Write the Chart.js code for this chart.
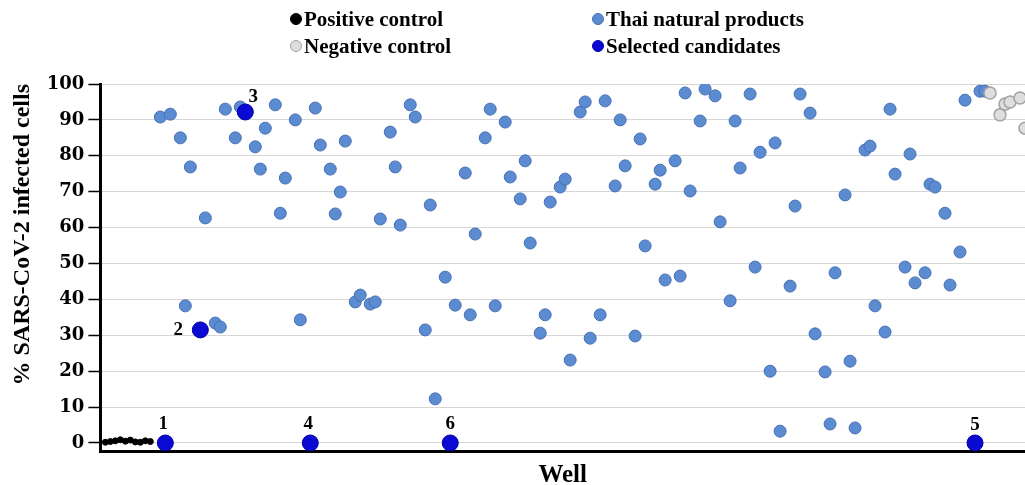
<!DOCTYPE html>
<html>
<head>
<meta charset="utf-8">
<script src="https://cdn.jsdelivr.net/npm/chart.js@4.4.1/dist/chart.umd.min.js"></script>
<style>
  html, body { margin: 0; padding: 0; background: #fff; }
  #wrap { position: relative; width: 1025px; height: 485px; }
  #legend { position: absolute; left: 0; top: 0; width: 1025px; height: 60px;
            font: bold 21px "Liberation Serif", serif; color: #000; }
  .item { position: absolute; display: flex; align-items: center; white-space: nowrap; line-height: 20px; }
  .dot { width: 12px; height: 12px; border-radius: 50%; box-sizing: border-box; margin-right: 2px; }
</style>
</head>
<body>
<div id="wrap">
  <canvas id="myChart" width="1025" height="485"></canvas>
  <div id="legend"></div>
</div>
<script>
const ctx = document.getElementById('myChart').getContext('2d');

// y axis ticks
const yTicks = [0, 10, 20, 30, 40, 50, 60, 70, 80, 90, 100];

// positive control wells
const positiveWells = [1, 2, 3, 4, 5, 6, 7, 8, 9, 10];
const positiveValues = [0.2, 0.4, 0.6, 0.9, 0.5, 0.8, 0.3, 0.2, 0.6, 0.4];

// Thai natural products
const thaiWells = [
  12, 14, 16, 17, 18, 21, 23, 24, 25, 27,
  28, 31, 32, 33, 35, 36, 37, 39, 40, 43,
  44, 46, 47, 48, 49, 51, 52, 54, 55, 56,
  58, 59, 60, 62, 63, 65, 66, 67, 69, 71,
  73, 74, 75, 77, 78, 79, 81, 82, 84, 85,
  86, 88, 89, 90, 92, 93, 94, 96, 97, 98,
  100, 101, 103, 104, 105, 107, 108, 109, 111, 112,
  113, 115, 116, 117, 118, 120, 121, 123, 124, 126,
  127, 128, 130, 131, 132, 134, 135, 136, 138, 139,
  140, 142, 143, 145, 146, 147, 149, 150, 151, 153,
  154, 155, 157, 158, 159, 161, 162, 163, 165, 166,
  167, 169, 170, 172, 173, 176, 177
];
const thaiValues = [
  90.8, 91.6, 85, 38.2, 76.9, 62.7, 33.4, 32.3, 93, 85,
  93.6, 82.5, 76.3, 87.7, 94.2, 64, 73.8, 90, 34.3, 93.3,
  83, 76.3, 63.8, 69.9, 84.1, 39.3, 41.2, 38.7, 39.3, 62.4,
  86.6, 76.9, 60.7, 94.2, 90.8, 31.5, 66.3, 12.3, 46.2, 38.4,
  75.2, 35.7, 58.2, 85, 93, 38.2, 89.4, 74.1, 68, 78.6,
  55.7, 30.6, 35.7, 67.1, 71.3, 73.5, 23.1, 92.2, 95, 29.2,
  35.7, 95.3, 71.6, 90, 77.2, 29.8, 84.7, 54.9, 72.1, 76,
  45.4, 78.6, 46.5, 97.5, 70.2, 89.7, 98.6, 96.7, 61.6, 39.6,
  89.7, 76.6, 97.2, 49, 81, 20, 83.6, 3.3, 43.7, 66,
  97.2, 91.9, 30.4, 19.8, 5.3, 47.4, 69.1, 22.8, 4.2, 81.6,
  82.7, 38.2, 30.9, 93, 74.9, 49, 80.5, 44.6, 47.4, 72.1,
  71.3, 64, 44, 53.2, 95.5, 98, 98
];

// negative control wells
const negativeWells = [178, 180, 181, 182, 184, 185];
const negativeValues = [97.5, 91.4, 94.4, 95, 96.1, 87.7];

// selected candidates
const candidateWells = [13, 20, 29, 42, 70, 175];
const candidateValues = [0, 31.5, 92.2, 0, 0, 0];
const candidateLabels = ['1', '2', '3', '4', '6', '5'];

function toPoints(xs, ys) {
  return xs.map((x, i) => ({ x: x, y: ys[i] }));
}

// where each candidate number sits relative to its dot
const labelOffsets = [
  { dx: -2, dy: -19 }, { dx: -22, dy: 0 }, { dx: 8, dy: -15 },
  { dx: -2, dy: -19 }, { dx: 0, dy: -19 }, { dx: 0, dy: -18 }
];

const candidateLabelPlugin = {
  id: 'candidateLabels',
  afterDatasetsDraw(chart) {
    const meta = chart.getDatasetMeta(3);
    const c = chart.ctx;
    c.save();
    c.font = 'bold 19px "Liberation Serif", serif';
    c.fillStyle = '#000';
    c.textAlign = 'center';
    c.textBaseline = 'middle';
    meta.data.forEach((pt, i) => {
      const off = labelOffsets[i];
      c.fillText(candidateLabels[i], pt.x + off.dx, pt.y + off.dy);
    });
    c.restore();
  }
};

const myChart = new Chart(ctx, {
  type: 'scatter',
  data: {
    datasets: [
      {
        label: 'Positive control',
        data: toPoints(positiveWells, positiveValues),
        backgroundColor: '#000000',
        borderColor: '#000000',
        borderWidth: 1,
        pointRadius: 3,
        order: 2
      },
      {
        label: 'Thai natural products',
        data: toPoints(thaiWells, thaiValues),
        backgroundColor: '#5b8bd1',
        borderColor: '#4670b4',
        borderWidth: 1,
        pointRadius: 6,
        order: 3
      },
      {
        label: 'Negative control',
        data: toPoints(negativeWells, negativeValues),
        backgroundColor: '#dedede',
        borderColor: '#a3a3a3',
        borderWidth: 1.5,
        pointRadius: 6,
        order: 1
      },
      {
        label: 'Selected candidates',
        data: toPoints(candidateWells, candidateValues),
        backgroundColor: '#0a0ad2',
        borderColor: '#0000a8',
        borderWidth: 1,
        pointRadius: 8,
        order: 0
      }
    ]
  },
  options: {
    responsive: false,
    animation: false,
    layout: { autoPadding: false, padding: { top: 84, left: 0, right: 0, bottom: 0 } },
    plugins: {
      legend: { display: false },
      tooltip: { enabled: false }
    },
    scales: {
      x: {
        type: 'linear',
        min: 0,
        max: 185,
        ticks: { display: false },
        grid: { display: false, drawTicks: false },
        border: { display: true, color: '#000', width: 3 },
        title: {
          display: true,
          text: 'Well',
          color: '#000',
          font: { family: '"Liberation Serif", serif', size: 25, weight: 'bold', lineHeight: '18px' },
          padding: { top: 16, bottom: 0 }
        }
      },
      y: {
        min: -2.23,
        max: 100,
        afterBuildTicks: (scale) => {
          scale.ticks = yTicks.map(v => ({ value: v }));
        },
        ticks: {
          color: '#000',
          padding: 4,
          font: { family: '"DejaVu Serif", serif', size: 18, weight: 'bold' }
        },
        grid: {
          color: '#d6d6d6',
          lineWidth: 1,
          tickColor: '#000',
          tickLength: 12,
          tickWidth: 1.5
        },
        border: { display: true, color: '#000', width: 3 },
        title: {
          display: true,
          text: '% SARS-CoV-2 infected cells',
          align: 'end',
          color: '#000',
          font: { family: '"Liberation Serif", serif', size: 24, weight: 'bold' },
          padding: { top: 8, bottom: 6 }
        }
      }
    }
  },
  plugins: [candidateLabelPlugin]
});

// 2 x 2 legend above the plot
const legendEl = document.getElementById('legend');
const legendCols = [290, 592];
const legendRows = [9, 36];
myChart.data.datasets.forEach((ds, i) => {
  const item = document.createElement('div');
  item.className = 'item';
  item.style.left = legendCols[i % 2] + 'px';
  item.style.top = legendRows[Math.floor(i / 2)] + 'px';
  const dot = document.createElement('span');
  dot.className = 'dot';
  dot.style.background = ds.backgroundColor;
  dot.style.border = '1px solid ' + ds.borderColor;
  item.appendChild(dot);
  item.appendChild(document.createTextNode(ds.label));
  legendEl.appendChild(item);
});
</script>
</body>
</html>
